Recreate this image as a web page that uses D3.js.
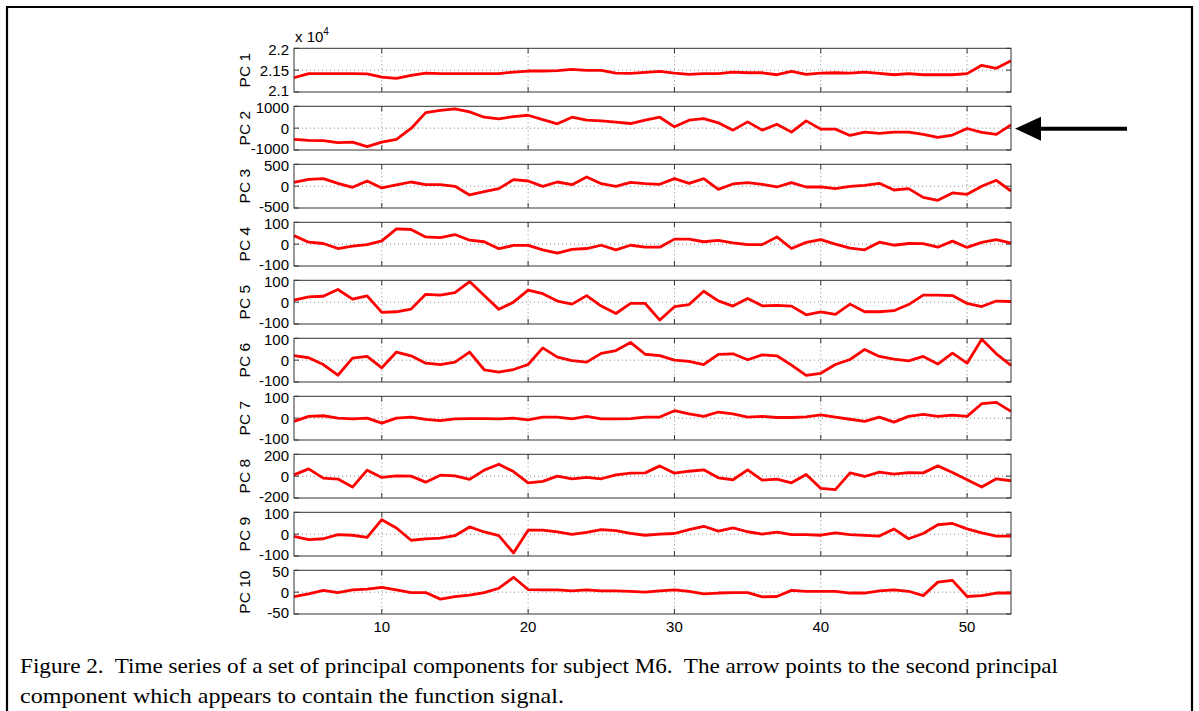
<!DOCTYPE html>
<html>
<head>
<meta charset="utf-8">
<script src="https://cdn.jsdelivr.net/npm/d3@7"></script>
<style>
    body { margin: 0; background: #fff; }
    svg { display: block; }
    .tick-label { font-family: Arial, "Liberation Sans", sans-serif; font-size: 15px; fill: #000; }
    .caption { font-family: "Times New Roman", "Liberation Serif", serif; font-size: 21px; fill: #000; white-space: pre; }
</style>
</head>
<body>
<div id="chart"></div>
<script>
// x samples 4..53
const xs = d3.range(4, 54);

const pc1 = [21326, 21419, 21420, 21420, 21420, 21415, 21341, 21310, 21380, 21434,
    21420, 21420, 21420, 21420, 21420, 21457, 21480, 21480, 21488, 21519,
    21496, 21496, 21434, 21428, 21450, 21473, 21434, 21403, 21420, 21420,
    21457, 21440, 21440, 21395, 21473, 21403, 21434, 21440, 21434, 21457,
    21426, 21395, 21420, 21395, 21395, 21395, 21420, 21612, 21543, 21713];
const pc2 = [-515, -560, -575, -667, -636, -848, -636, -515, -15, 712,
    818, 879, 742, 500, 424, 530, 590, 394, 197, 500,
    364, 333, 273, 212, 364, 500, 60, 364, 439, 242,
    -91, 288, -91, 182, -182, 333, -45, -45, -333, -182,
    -242, -182, -182, -288, -424, -318, -15, -197, -288, 152];
const pc3 = [88, 156, 172, 65, -27, 118, -42, 27, 95, 34,
    34, -4, -202, -126, -57, 149, 118, -4, 95, 34,
    210, 57, -4, 88, 57, 42, 172, 65, 172, -73,
    50, 80, 42, -19, 80, -19, -19, -57, -4, 19,
    65, -88, -57, -256, -324, -156, -187, -4, 134, -111];
const pc4 = [39, 9, 3, -20, -9, -2, 15, 70, 67, 33,
    30, 44, 18, 11, -21, -6, -6, -26, -41, -24,
    -20, -5, -26, -5, -14, -14, 23, 23, 11, 17,
    6, -2, -2, 33, -20, 8, 21, 0, -18, -26,
    9, -5, 3, 2, -14, 14, -15, 8, 21, 5];
const pc5 = [9, 24, 27, 58, 14, 29, -47, -44, -32, 36,
    32, 44, 94, 30, -33, 0, 55, 39, 5, -9,
    30, -18, -52, -6, -6, -82, -21, -11, 50, 6,
    -18, 17, -17, -15, -18, -58, -44, -56, -9, -44,
    -44, -39, -11, 32, 32, 30, -6, -20, 5, 3];
const pc6 = [21, 11, -20, -69, 9, 17, -35, 37, 20, -14,
    -20, -9, 37, -44, -55, -43, -20, 56, 14, -2,
    -9, 31, 44, 81, 27, 21, 0, -6, -20, 26,
    29, 2, 24, 20, -23, -70, -60, -20, 3, 49,
    17, 5, -3, 17, -18, 32, -14, 96, 29, -24];
const pc7 = [-15, 8, 11, 0, -3, 0, -23, 0, 5, -6,
    -11, -3, -2, -2, -3, 0, -8, 5, 5, -3,
    8, -3, -3, -2, 5, 5, 34, 20, 8, 28,
    20, 5, 8, 3, 3, 6, 15, 5, -5, -15,
    5, -18, 8, 17, 8, 14, 8, 66, 72, 31];
const pc8 = [12, 67, -18, -27, -100, 55, -12, 3, 0, -55,
    9, 3, -30, 55, 109, 42, -61, -48, 0, -24,
    -12, -24, 12, 27, 30, 94, 27, 45, 58, -15,
    -33, 58, -36, -27, -61, 15, -112, -124, 30, -3,
    36, 18, 33, 30, 94, 33, -33, -100, -24, -42];
const pc9 = [-10, -25, -21, -2, -5, -15, 66, 28, -28, -22,
    -18, -7, 33, 10, -7, -86, 18, 18, 10, -1,
    8, 21, 16, 4, -5, 0, 3, 21, 36, 14,
    29, 11, 0, 9, -2, -2, -5, 6, -2, -6,
    -9, 24, -21, 3, 43, 49, 24, 6, -9, -9];
const pc10 = [-10, -4, 4, -1, 5, 7, 11, 5, -1, -1,
    -16, -10, -7, -1, 9, 34, 6, 5, 5, 3,
    5, 3, 3, 2, 0, 3, 5, 2, -4, -2,
    -1, -1, -11, -10, 4, 2, 2, 2, -2, -2,
    3, 5, 2, -8, 23, 27, -10, -8, -2, -2];

const seriesNames = ["PC 1", "PC 2", "PC 3", "PC 4", "PC 5", "PC 6", "PC 7", "PC 8", "PC 9", "PC 10"];
const seriesValues = [pc1, pc2, pc3, pc4, pc5, pc6, pc7, pc8, pc9, pc10];
const yDomains = [[21000, 22000], [-1000, 1000], [-500, 500], [-100, 100], [-100, 100],
    [-100, 100], [-100, 100], [-200, 200], [-100, 100], [-50, 50]];
const yTickLabels = [["2.1", "2.15", "2.2"], ["-1000", "0", "1000"], ["-500", "0", "500"],
    ["-100", "0", "100"], ["-100", "0", "100"], ["-100", "0", "100"], ["-100", "0", "100"],
    ["-200", "0", "200"], ["-100", "0", "100"], ["-50", "0", "50"]];
const xTicks = [10, 20, 30, 40, 50];
const captionLines = [
    "Figure 2.  Time series of a set of principal components for subject M6.  The arrow points to the second principal",
    "component which appears to contain the function signal."
];
const captionWidths = [1038, 544];

const W = 1199, H = 711;
const left = 294, right = 1011;
const top0 = 48.3, step = 58.0, panelH = 43.7;

const svg = d3.select("#chart").append("svg")
    .attr("width", W)
    .attr("height", H);

// outer figure frame (open at bottom)
svg.append("path")
    .attr("d", `M7,${H} V7 H1192 V${H}`)
    .attr("fill", "none")
    .attr("stroke", "#000")
    .attr("stroke-width", 2.2);

const x = d3.scaleLinear().domain([4, 53]).range([left, right]);

seriesValues.forEach((vals, i) => {
    const y0 = top0 + i * step;
    const y = d3.scaleLinear().domain(yDomains[i]).range([y0 + panelH, y0]);
    const yTicks = [yDomains[i][0], (yDomains[i][0] + yDomains[i][1]) / 2, yDomains[i][1]];
    const g = svg.append("g");

    // dotted grid
    g.selectAll("line.vgrid")
        .data(xTicks)
        .join("line")
        .attr("x1", d => x(d)).attr("x2", d => x(d))
        .attr("y1", y0).attr("y2", y0 + panelH)
        .attr("stroke", "#666")
        .attr("stroke-width", 0.8)
        .attr("stroke-dasharray", "1,3");

    g.append("line")
        .attr("x1", left).attr("x2", right)
        .attr("y1", y(yTicks[1])).attr("y2", y(yTicks[1]))
        .attr("stroke", "#666")
        .attr("stroke-width", 0.8)
        .attr("stroke-dasharray", "1,3");

    // inner ticks
    xTicks.forEach(t => {
        g.append("line")
            .attr("x1", x(t)).attr("x2", x(t))
            .attr("y1", y0 + panelH).attr("y2", y0 + panelH - 5)
            .attr("stroke", "#333");
        g.append("line")
            .attr("x1", x(t)).attr("x2", x(t))
            .attr("y1", y0).attr("y2", y0 + 5)
            .attr("stroke", "#333");
    });
    yTicks.forEach(t => {
        g.append("line")
            .attr("x1", left).attr("x2", left + 5)
            .attr("y1", y(t)).attr("y2", y(t))
            .attr("stroke", "#333");
        g.append("line")
            .attr("x1", right).attr("x2", right - 5)
            .attr("y1", y(t)).attr("y2", y(t))
            .attr("stroke", "#333");
    });

    // the series
    const line = d3.line()
        .x((d, j) => x(xs[j]))
        .y(d => y(d));

    g.append("path")
        .datum(vals)
        .attr("d", line)
        .attr("fill", "none")
        .attr("stroke", "#ff0000")
        .attr("stroke-width", 2.8)
        .attr("stroke-linejoin", "round");

    // box
    g.append("rect")
        .attr("x", left).attr("y", y0)
        .attr("width", right - left).attr("height", panelH)
        .attr("fill", "none")
        .attr("stroke", "#333")
        .attr("stroke-width", 1);

    // y tick labels (top/bottom labels nudged inward a little, as in the figure)
    g.selectAll("text.ytick")
        .data(yTicks)
        .join("text")
        .attr("class", "tick-label")
        .attr("x", left - 5)
        .attr("y", (d, k) => y(d) + (k === 0 ? -1 : k === 2 ? 1 : 0))
        .attr("dy", "0.36em")
        .attr("text-anchor", "end")
        .text((d, k) => yTickLabels[i][k]);

    // panel label
    g.append("text")
        .attr("class", "tick-label")
        .style("font-size", "15.5px")
        .attr("transform", `translate(${250},${y0 + panelH / 2}) rotate(-90)`)
        .attr("text-anchor", "middle")
        .text(seriesNames[i]);
});

// exponent label for PC 1
const expo = svg.append("text")
    .attr("class", "tick-label")
    .attr("x", left + 1)
    .attr("y", 42);
expo.append("tspan").text("x 10");
expo.append("tspan").attr("font-size", "10px").attr("dy", -7).text("4");

// bottom x labels
const lastBottom = top0 + 9 * step + panelH;
svg.selectAll("text.xtick")
    .data(xTicks)
    .join("text")
    .attr("class", "tick-label")
    .attr("x", d => x(d))
    .attr("y", lastBottom + 18)
    .attr("text-anchor", "middle")
    .text(d => d);

// arrow pointing at PC 2
const arrowY = top0 + step + panelH / 2 + 0.5;
svg.append("line")
    .attr("x1", 1127).attr("x2", 1038)
    .attr("y1", arrowY).attr("y2", arrowY)
    .attr("stroke", "#000")
    .attr("stroke-width", 4);
svg.append("path")
    .attr("d", `M1015,${arrowY} L1041,${arrowY - 12} L1041,${arrowY + 12} Z`)
    .attr("fill", "#000");

// caption
svg.selectAll("text.caption")
    .data(captionLines)
    .join("text")
    .attr("class", "caption")
    .attr("x", 20)
    .attr("y", (d, i) => 673 + i * 30)
    .attr("textLength", (d, i) => captionWidths[i])
    .attr("lengthAdjust", "spacingAndGlyphs")
    .text(d => d);
</script>
</body>
</html>
